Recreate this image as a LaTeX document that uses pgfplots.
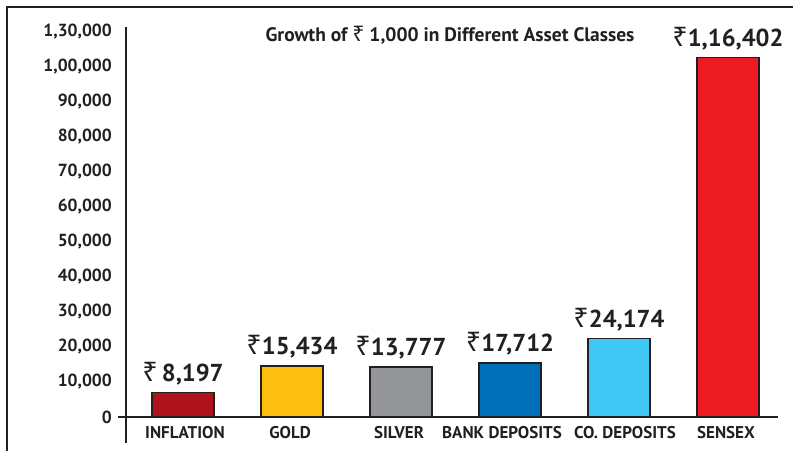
\documentclass[border=0pt]{standalone}
\usepackage{graphicx}
\usepackage{pgfplots}
\pgfplotsset{compat=1.18}
\usepackage{fontspec}
\setmainfont{PT Sans}
\newfontfamily\rupeefont{Noto Sans}
\newcommand\rupee{\scalebox{1.1}{\rupeefont\bfseries ₹}}
\definecolor{ink}{HTML}{231F20}
\definecolor{cInfl}{HTML}{B0121B}
\definecolor{cGold}{HTML}{FDC010}
\definecolor{cSilv}{HTML}{939598}
\definecolor{cBank}{HTML}{0070BA}
\definecolor{cCo}{HTML}{40C8F4}
\definecolor{cSens}{HTML}{ED1C24}
\begin{document}
\begin{tikzpicture}[x=1pt,y=1pt]
\useasboundingbox (0,0) rectangle (793,-451);
\draw[ink, line width=1.4pt] (7,-451) -- (7,-7) -- (793,-7);
\begin{axis}[
  at={(126pt,-417pt)}, anchor=south west,
  scale only axis, width=652pt, height=390pt,
  xmin=-0.523, xmax=5.459, ymin=0, ymax=111430,
  clip=false,
  scaled y ticks=false,
  axis line style={draw=none},
  major tick length=0pt,
  tick style={draw=none},
  ytick={0,10000,20000,30000,40000,50000,60000,70000,80000,90000,100000,110000},
  yticklabels={0,{10,000},{20,000},{30,000},{40,000},{50,000},{60,000},{70,000},{80,000},{90,000},{1,00,000},{1,30,000}},
  yticklabel style={inner sep=0pt, xshift=-14pt, font=\fontsize{17.5}{19}\selectfont\bfseries, text=ink},
  xtick={0.018,0.982,1.982,2.927,4.055,4.982},
  xticklabels={INFLATION,GOLD,SILVER,BANK DEPOSITS,CO. DEPOSITS,SENSEX},
  xticklabel style={inner sep=0pt, yshift=-9pt, font=\fontsize{17}{19}\selectfont\bfseries, text=ink},
  every axis plot/.append style={ybar, bar width=62pt, bar shift=0pt, draw=ink, line width=1.3pt},
  nodes near coords style={inner sep=0pt, yshift=7pt, anchor=south, font=\fontsize{24.5}{26}\selectfont\bfseries, text=ink},
]
\addplot[fill=cInfl, nodes near coords={\rupee\,8,197}] coordinates {(0,6970)};
\addplot[fill=cGold, nodes near coords={\rupee15,434}] coordinates {(1,14570)};
\addplot[fill=cSilv, nodes near coords={\rupee13,777}] coordinates {(2,14290)};
\addplot[fill=cBank, nodes near coords={\rupee17,712}] coordinates {(3,15430)};
\addplot[fill=cCo, nodes near coords={\rupee24,174}] coordinates {(4,22400)};
\addplot[fill=cSens, nodes near coords={\rupee1,16,402}] coordinates {(5,102690)};
\draw[ink, line width=1.4pt] (rel axis cs:0,1) -- ([yshift=-26pt]rel axis cs:0,0);
\draw[ink, line width=1.4pt] ([xshift=-8pt]rel axis cs:0,0) -- (rel axis cs:1,0);
\node[font=\fontsize{19.5}{21}\selectfont\bfseries, text=ink] at (rel axis cs:0.497,0.979) {Growth of \rupee\ 1,000 in Different Asset Classes};
\end{axis}
\end{tikzpicture}
\end{document}
